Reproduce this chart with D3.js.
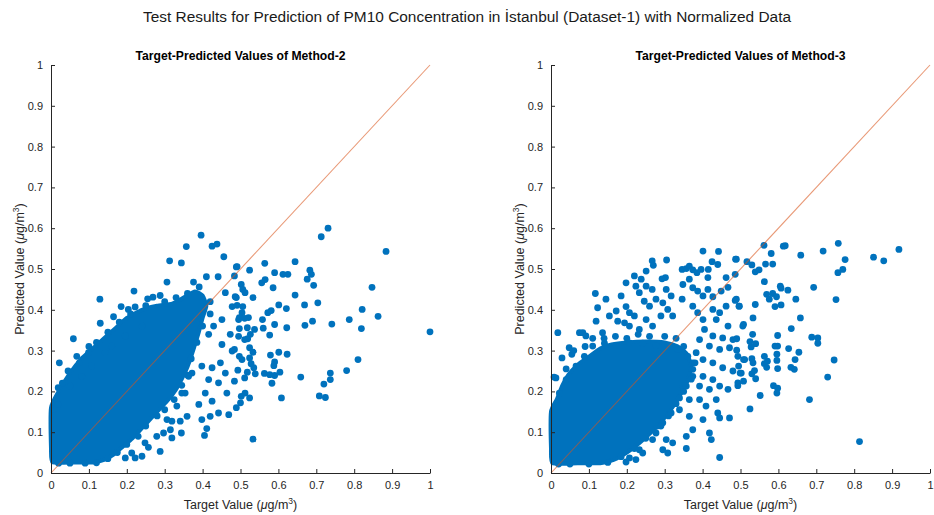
<!DOCTYPE html>
<html>
<head>
<meta charset="utf-8">
<script src="https://cdnjs.cloudflare.com/ajax/libs/d3/7.8.5/d3.min.js"></script>
<style>
  body { margin: 0; background: #fff; }
  text { font-family: "Liberation Sans", Arial, sans-serif; }
</style>
</head>
<body>
<div id="chart"></div>
<script>
var w = 934;
var h = 515;

var mainTitle = "Test Results for Prediction of PM10 Concentration in İstanbul (Dataset-1) with Normalized Data";
var panelTitles = ["Target-Predicted Values of Method-2", "Target-Predicted Values of Method-3"];
var tickValues = [0, 0.1, 0.2, 0.3, 0.4, 0.5, 0.6, 0.7, 0.8, 0.9, 1];
var tickLabels = ["0", "0.1", "0.2", "0.3", "0.4", "0.5", "0.6", "0.7", "0.8", "0.9", "1"];
var refLine = [[0, 0], [1, 1]];

// dense cloud outline (target, predicted) - too many overlapping points to read one by one
var core2 = [[0.004,0.026],[0.0,0.06],[0.0,0.16],[0.02,0.2],[0.05,0.245],[0.08,0.28],[0.11,0.305],[0.14,0.33],
  [0.17,0.355],[0.20,0.38],[0.24,0.40],[0.28,0.41],[0.32,0.415],[0.35,0.43],[0.38,0.445],[0.40,0.435],
  [0.41,0.41],[0.40,0.38],[0.39,0.345],[0.375,0.30],[0.36,0.26],[0.345,0.23],[0.33,0.205],[0.31,0.18],
  [0.29,0.16],[0.265,0.135],[0.24,0.11],[0.215,0.085],[0.19,0.065],[0.165,0.045],[0.14,0.032],
  [0.11,0.026],[0.06,0.026]];

var points2 = [[0.396,0.583],[0.425,0.556],[0.438,0.561],[0.357,0.555],[0.456,0.530],[0.313,0.520],
  [0.344,0.515],[0.491,0.506],[0.441,0.481],[0.410,0.481],[0.376,0.468],[0.391,0.456],[0.306,0.468],
  [0.219,0.446],[0.129,0.426],[0.255,0.427],[0.269,0.431],[0.288,0.435],[0.185,0.408],[0.204,0.401],
  [0.222,0.407],[0.165,0.383],[0.130,0.367],[0.059,0.329],[0.022,0.270],[0.068,0.286],[0.099,0.295],
  [0.019,0.209],[0.006,0.157],[0.460,0.442],[0.486,0.432],[0.478,0.408],[0.504,0.393],[0.495,0.376],
  [0.451,0.376],[0.429,0.360],[0.416,0.340],[0.473,0.340],[0.451,0.315],[0.495,0.335],[0.478,0.299],
  [0.504,0.278],[0.447,0.270],[0.460,0.245],[0.398,0.262],[0.425,0.258],[0.416,0.229],[0.442,0.221],
  [0.464,0.196],[0.372,0.245],[0.354,0.196],[0.390,0.168],[0.407,0.196],[0.425,0.176],[0.420,0.139],
  [0.398,0.131],[0.359,0.139],[0.341,0.127],[0.319,0.127],[0.315,0.106],[0.297,0.098],[0.319,0.086],
  [0.288,0.053],[0.257,0.063],[0.240,0.041],[0.411,0.109],[0.405,0.092],[0.442,0.147],[0.469,0.143],
  [0.344,0.098],[0.222,0.037],[0.196,0.037],
  [0.731,0.600],[0.713,0.579],[0.884,0.543],[0.644,0.518],[0.564,0.514],[0.524,0.497],[0.489,0.505],
  [0.590,0.491],[0.612,0.487],[0.625,0.487],[0.683,0.497],[0.687,0.487],[0.676,0.475],[0.693,0.460],
  [0.556,0.466],[0.565,0.474],[0.586,0.454],[0.533,0.430],[0.644,0.436],[0.601,0.412],[0.621,0.403],
  [0.669,0.412],[0.704,0.417],[0.572,0.393],[0.581,0.398],[0.847,0.455],[0.821,0.401],[0.863,0.384],
  [0.787,0.376],[0.741,0.365],[0.690,0.372],[0.670,0.362],[0.622,0.356],[0.590,0.364],[0.558,0.376],
  [0.560,0.355],[0.577,0.338],[0.819,0.354],[1.0,0.346],[0.659,0.235],[0.810,0.278],[0.780,0.251],
  [0.737,0.245],[0.737,0.229],[0.720,0.218],[0.708,0.189],[0.724,0.185],[0.608,0.184],[0.533,0.083],
  [0.484,0.483],[0.502,0.462],[0.506,0.450],[0.512,0.442],[0.489,0.430],[0.491,0.411],[0.506,0.408],
  [0.537,0.352],[0.526,0.340],[0.519,0.329],[0.511,0.327],[0.497,0.381],[0.511,0.379],[0.521,0.381],
  [0.497,0.354],[0.518,0.356],[0.484,0.303],[0.524,0.307],[0.533,0.296],[0.497,0.286],[0.524,0.282],
  [0.528,0.268],[0.535,0.258],[0.539,0.243],[0.493,0.252],[0.518,0.247],[0.579,0.289],[0.601,0.296],
  [0.623,0.291],[0.590,0.272],[0.588,0.263],[0.563,0.244],[0.577,0.241],[0.590,0.239],[0.604,0.247],
  [0.583,0.220],[0.484,0.225],[0.511,0.233],[0.512,0.196],[0.502,0.188],[0.524,0.184],[0.500,0.172],
  [0.489,0.160],
  [0.03,0.22],[0.045,0.25],[0.075,0.27],[0.10,0.31],[0.12,0.32],[0.15,0.345],[0.18,0.37],[0.21,0.39],
  [0.25,0.41],[0.30,0.42],[0.33,0.43],[0.36,0.44],[0.42,0.42],[0.42,0.39],[0.40,0.36],[0.385,0.32],
  [0.37,0.28],[0.36,0.24],[0.345,0.215],[0.325,0.18],[0.30,0.155],[0.28,0.14],[0.25,0.115],[0.23,0.09],
  [0.20,0.07],[0.175,0.05],[0.15,0.035],[0.12,0.025],[0.09,0.024],[0.05,0.024],[0.02,0.024],
  [0.018,0.168],[0.05,0.213],[0.081,0.237],[0.107,0.262],[0.143,0.295],[0.16,0.311],[0.196,0.336],
  [0.24,0.36],[0.213,0.049],[0.248,0.074],[0.279,0.09],[0.306,0.131],[0.332,0.164],[0.345,0.196],
  [0.363,0.237]];

var core3 = [[0.004,0.024],[0.0,0.06],[0.0,0.15],[0.015,0.18],[0.03,0.215],[0.045,0.24],[0.07,0.265],
  [0.10,0.285],[0.13,0.305],[0.16,0.315],[0.20,0.32],[0.25,0.322],[0.30,0.32],[0.335,0.31],[0.36,0.29],
  [0.37,0.26],[0.36,0.225],[0.34,0.19],[0.32,0.16],[0.295,0.13],[0.265,0.10],[0.235,0.075],[0.20,0.05],
  [0.165,0.032],[0.13,0.024],[0.07,0.024]];

var points3 = [[0.401,0.544],[0.442,0.543],[0.487,0.524],[0.425,0.518],[0.440,0.511],[0.305,0.522],
  [0.267,0.520],[0.270,0.509],[0.251,0.495],[0.293,0.476],[0.302,0.479],[0.198,0.466],[0.220,0.483],
  [0.117,0.440],[0.145,0.426],[0.123,0.405],[0.346,0.426],[0.467,0.455],[0.462,0.479],
  [0.346,0.499],[0.357,0.501],[0.365,0.507],[0.374,0.498],[0.385,0.491],[0.396,0.499],[0.415,0.499],
  [0.414,0.479],[0.365,0.475],[0.348,0.462],[0.374,0.454],[0.387,0.446],[0.401,0.434],[0.414,0.450],
  [0.427,0.432],[0.449,0.446],[0.238,0.475],[0.251,0.458],[0.233,0.442],[0.224,0.458],[0.267,0.450],
  [0.277,0.426],[0.260,0.409],[0.246,0.421],[0.185,0.434],[0.198,0.408],[0.207,0.393],[0.172,0.397],
  [0.154,0.385],[0.176,0.372],[0.194,0.368],[0.304,0.450],[0.317,0.434],[0.295,0.417],[0.308,0.401],
  [0.321,0.385],[0.290,0.385],[0.268,0.360],[0.251,0.376],[0.220,0.385],[0.207,0.360],[0.233,0.352],
  [0.119,0.372],[0.136,0.344],[0.092,0.336],[0.075,0.344],[0.084,0.344],[0.018,0.344],[0.048,0.307],
  [0.055,0.291],[0.029,0.282],[0.013,0.233],[0.374,0.409],[0.387,0.393],[0.401,0.376],[0.427,0.401],
  [0.445,0.393],[0.462,0.409],[0.489,0.426],[0.497,0.409],[0.436,0.376],[0.467,0.360],[0.405,0.352],
  [0.427,0.336],[0.453,0.331],[0.480,0.327],[0.506,0.360],[0.392,0.327],[0.418,0.311],[0.445,0.303],
  [0.471,0.307],[0.493,0.286],[0.511,0.278],[0.383,0.295],[0.401,0.278],[0.427,0.270],[0.453,0.258],
  [0.480,0.250],[0.502,0.245],[0.374,0.270],[0.401,0.237],[0.427,0.229],[0.445,0.213],[0.467,0.205],
  [0.493,0.221],[0.374,0.237],[0.392,0.213],[0.418,0.205],[0.348,0.213],[0.365,0.180],[0.392,0.180],
  [0.409,0.164],[0.436,0.180],[0.440,0.147],[0.445,0.135],[0.471,0.135],[0.339,0.155],[0.365,0.139],
  [0.401,0.131],[0.418,0.098],[0.423,0.082],[0.374,0.106],[0.357,0.090],[0.357,0.060],[0.321,0.074],
  [0.295,0.123],[0.277,0.098],[0.304,0.082],[0.308,0.049],[0.295,0.057],[0.242,0.049],[0.224,0.033],
  [0.198,0.027],[0.445,0.038],
  [0.758,0.563],[0.918,0.548],[0.613,0.556],[0.618,0.557],[0.562,0.558],[0.659,0.534],[0.718,0.544],
  [0.581,0.538],[0.851,0.529],[0.878,0.520],[0.776,0.523],[0.757,0.491],[0.770,0.499],[0.517,0.518],
  [0.530,0.510],[0.489,0.524],[0.486,0.487],[0.566,0.512],[0.585,0.512],[0.539,0.493],[0.549,0.498],
  [0.563,0.469],[0.693,0.455],[0.605,0.458],[0.607,0.453],[0.625,0.448],[0.646,0.426],[0.752,0.425],
  [0.539,0.413],[0.658,0.380],[0.533,0.380],[0.508,0.364],[0.634,0.354],[0.688,0.333],[0.704,0.331],
  [0.704,0.318],[0.598,0.337],[0.532,0.340],[0.627,0.305],[0.654,0.296],[0.747,0.277],[0.730,0.235],
  [0.587,0.214],[0.598,0.208],[0.596,0.196],[0.552,0.190],[0.682,0.180],[0.525,0.157],[0.814,0.077],
  [0.569,0.438],[0.576,0.426],[0.585,0.440],[0.595,0.432],[0.486,0.423],[0.496,0.409],[0.591,0.408],
  [0.607,0.412],[0.490,0.329],[0.525,0.322],[0.540,0.317],[0.528,0.309],[0.591,0.311],[0.598,0.311],
  [0.490,0.301],[0.508,0.278],[0.530,0.280],[0.533,0.270],[0.563,0.286],[0.571,0.274],[0.563,0.268],
  [0.596,0.291],[0.596,0.276],[0.644,0.278],[0.633,0.259],[0.642,0.254],[0.598,0.256],[0.569,0.259],
  [0.495,0.262],[0.499,0.245],[0.530,0.243],[0.537,0.251],[0.540,0.231],[0.508,0.225],[0.493,0.214],
  [0.06,0.30],[0.09,0.31],[0.11,0.33],[0.14,0.33],[0.17,0.335],[0.20,0.33],[0.23,0.34],[0.26,0.335],
  [0.30,0.335],[0.33,0.33],[0.35,0.31],[0.38,0.27],[0.37,0.23],[0.35,0.20],[0.33,0.17],[0.31,0.14],
  [0.28,0.115],[0.25,0.085],[0.22,0.06],[0.185,0.04],[0.15,0.026],[0.10,0.022],[0.05,0.022],[0.02,0.022],
  [0.008,0.235],[0.04,0.255],
  [0.11,0.311],[0.141,0.318],[0.172,0.313],[0.207,0.319],[0.242,0.318],[0.277,0.313],[0.335,0.303],
  [0.361,0.286],[0.374,0.254],[0.357,0.213],[0.339,0.184],[0.317,0.147],[0.29,0.115],[0.268,0.082],
  [0.233,0.057],[0.207,0.037],[0.022,0.196],[0.04,0.229],[0.066,0.262],[0.088,0.286]];

var plotTop = 65, plotBottom = 473;
var panels = [
  {left: 51, right: 430, title: panelTitles[0], core: core2, pts: points2},
  {left: 551, right: 930, title: panelTitles[1], core: core3, pts: points3}
];

var svg = d3.select("#chart")
            .append("svg")
            .attr("width", w)
            .attr("height", h);

svg.append("text")
   .attr("x", 467)
   .attr("y", 22)
   .attr("text-anchor", "middle")
   .attr("font-size", "15.5px")
   .attr("textLength", 648)
   .attr("lengthAdjust", "spacingAndGlyphs")
   .attr("fill", "#1a1a1a")
   .text(mainTitle);

function unitLabel(sel, first) {
  sel.append("tspan").text(first + " (");
  sel.append("tspan").attr("font-style", "italic").text("μ");
  sel.append("tspan").text("g/m");
  sel.append("tspan").attr("font-size", "8.5px").attr("dy", -5).text("3");
  sel.append("tspan").attr("dy", 5).text(")");
}

panels.forEach(function(p) {
  var x = d3.scaleLinear().domain([0, 1]).range([p.left, p.right]);
  var y = d3.scaleLinear().domain([0, 1]).range([plotBottom, plotTop]);
  var g = svg.append("g");

  // dense core
  g.append("path")
   .datum(p.core)
   .attr("d", d3.line()
      .x(function(d) { return x(d[0]); })
      .y(function(d) { return y(d[1]); })
      .curve(d3.curveCardinalClosed.tension(0.5)))
   .attr("fill", "#0072BD")
   .attr("stroke", "#0072BD")
   .attr("stroke-width", 4)
   .attr("stroke-linejoin", "round");

  g.selectAll("circle")
   .data(p.pts)
   .enter()
   .append("circle")
   .attr("cx", function(d) { return x(d[0]); })
   .attr("cy", function(d) { return y(d[1]); })
   .attr("r", 3.4)
   .attr("fill", "#0072BD");

  g.append("path")
   .datum(refLine)
   .attr("d", d3.line()
      .x(function(d) { return x(d[0]); })
      .y(function(d) { return y(d[1]); }))
   .attr("stroke", "#D95319")
   .attr("stroke-opacity", 0.6)
   .attr("stroke-width", 1.1)
   .attr("fill", "none");

  var xAxis = d3.axisBottom(x)
      .tickValues(tickValues)
      .tickFormat(function(d, i) { return tickLabels[i]; })
      .tickSizeInner(-4)
      .tickSizeOuter(0)
      .tickPadding(8);
  var yAxis = d3.axisLeft(y)
      .tickValues(tickValues)
      .tickFormat(function(d, i) { return tickLabels[i]; })
      .tickSizeInner(-4)
      .tickSizeOuter(0)
      .tickPadding(8);

  var gx = g.append("g")
      .attr("transform", "translate(0," + plotBottom + ")")
      .call(xAxis);
  var gy = g.append("g")
      .attr("transform", "translate(" + p.left + ",0)")
      .call(yAxis);

  [gx, gy].forEach(function(a) {
    a.select(".domain").attr("stroke", "#262626").attr("stroke-width", 1);
    a.selectAll(".tick line").attr("stroke", "#262626");
    a.selectAll(".tick text")
     .attr("fill", "#262626")
     .attr("font-size", "11px")
     .attr("font-family", "Liberation Sans, Arial, sans-serif");
  });

  var cx = (p.left + p.right) / 2;
  g.append("text")
   .attr("x", cx)
   .attr("y", 60)
   .attr("text-anchor", "middle")
   .attr("font-size", "13px")
   .attr("font-weight", "bold")
   .attr("textLength", 210)
   .attr("lengthAdjust", "spacingAndGlyphs")
   .attr("fill", "#000")
   .text(p.title);

  g.append("text")
   .attr("x", cx)
   .attr("y", 509)
   .attr("text-anchor", "middle")
   .attr("font-size", "12.5px")
   .attr("fill", "#262626")
   .call(unitLabel, "Target Value");

  g.append("text")
   .attr("transform", "translate(" + (p.left - 27) + "," + ((plotTop + plotBottom) / 2) + ") rotate(-90)")
   .attr("text-anchor", "middle")
   .attr("font-size", "12.5px")
   .attr("fill", "#262626")
   .call(unitLabel, "Predicted Value");
});
</script>
</body>
</html>
